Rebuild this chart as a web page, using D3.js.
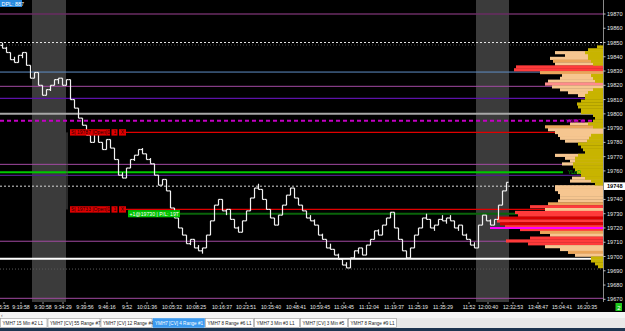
<!DOCTYPE html>
<html>
<head>
<meta charset="utf-8">
<script src="https://cdn.jsdelivr.net/npm/d3@7"></script>
<style>
html, body { margin: 0; padding: 0; background: #000; overflow: hidden; }
svg { display: block; font-family: "Liberation Sans", Arial, sans-serif; }
</style>
</head>
<body>
<svg id="chart" width="625" height="331"></svg>
<script>
// -------------------- DATA --------------------
// 4-range bar closes, read left to right
const closes = [
  19846, 19843, 19838, 19836, 19841, 19843, 19834, 19825, 19829, 19820,
  19813, 19817, 19820, 19824, 19825, 19820, 19824, 19810, 19804, 19797,
  19792, 19785, 19780, 19787, 19780, 19775, 19782, 19776, 19768, 19757,
  19755, 19762, 19768, 19771, 19775, 19772, 19768, 19765, 19757, 19750,
  19754, 19746, 19734, 19727, 19720, 19715, 19709, 19712, 19706, 19704,
  19706, 19715, 19725, 19736, 19740, 19732, 19733, 19726, 19720, 19717,
  19725, 19732, 19741, 19748, 19747, 19740, 19733, 19727, 19722, 19729,
  19736, 19743, 19748, 19741, 19736, 19732, 19727, 19725, 19722, 19715,
  19712, 19706, 19705, 19701, 19698, 19694, 19692, 19699, 19704, 19706,
  19701, 19708, 19712, 19718, 19715, 19722, 19727, 19731, 19720, 19712,
  19704, 19699, 19706, 19715, 19720, 19727, 19726, 19720, 19722, 19726,
  19725, 19727, 19725, 19720, 19722, 19715, 19712, 19708, 19706, 19722,
  19729, 19725, 19722, 19726, 19736, 19746, 19752
];

const priceTicks = [19870, 19860, 19850, 19840, 19830, 19820, 19810, 19800, 19790, 19780,
  19770, 19760, 19740, 19730, 19720, 19710, 19700, 19690, 19680, 19670];

const timeLabels = ["5:35", "9:19:58", "9:30:58", "9:34:29", "9:39:56", "9:46:16", "9:52",
  "10:01:36", "10:05:32", "10:08:25", "10:16:37", "10:23:51", "10:35:40", "10:48:41",
  "10:59:45", "11:04:45", "11:12:04", "11:19:37", "11:25:19", "11:35:29", "11:52",
  "12:00:40", "12:32:53", "13:48:47", "15:04:41", "16:20:35"];
// bar index under each time label
const timeIdx = [0.5, 4.75, 10.25, 15.25, 20.75, 26.25, 31.25, 36.25, 42.5, 48.5, 55, 61,
  67.25, 73.5, 79.5, 85.5, 91.75, 98, 104, 110.25, 116.75, 121.5, 127.75, 134, 140, 146.25];

// session shading (bar index ranges)
const sessionFrom = [7.5, 118.5];
const sessionTo = [16, 126.75];

// volume profile, 2-point rows (row low price)
const profileLow = d3.range(19846, 19690, -2);
const profileVol = [
  0, 0, 240, 190, 265, 250, 240, 435, 445, 315,
  205, 215, 275, 290, 255, 215, 175, 125, 0, 0,
  0, 0, 0, 0, 0, 0, 0, 165, 290, 275,
  240, 225, 215, 190, 0, 0, 0, 0, 240, 190,
  165, 205, 0, 0, 0, 0, 155, 165, 0, 240,
  240, 225, 215, 215, 225, 275, 365, 290, 440, 425,
  530, 530, 515, 490, 415, 315, 265, 365, 485, 375,
  290, 215, 175, 140, 0, 0, 0, 0
];
const profileKind = [
  "", "", "t", "t", "t", "o", "t", "r", "r", "o",
  "t", "t", "t", "p", "t", "t", "t", "t", "", "",
  "", "", "", "", "", "", "", "t", "o", "t",
  "t", "t", "t", "t", "", "", "", "", "t", "t",
  "t", "t", "", "", "", "", "t", "t", "", "t",
  "t", "t", "t", "t", "t", "o", "r", "t", "r", "r",
  "d", "r", "d", "r", "r", "o", "t", "r", "r", "r",
  "t", "t", "o", "t", "", "", "", ""
];
const profileBase = [
  30, 75, 90, 75, 75, 60, 50, 0, 0, 0,
  60, 50, 40, 0, 0, 50, 75, 90, 90, 110,
  130, 125, 110, 110, 50, 40, 50, 75, 50, 0,
  0, 60, 70, 80, 125, 110, 100, 90, 125, 140,
  140, 150, 150, 140, 130, 110, 90, 60, 40, 0,
  0, 0, 0, 0, 0, 0, 0, 0, 0, 0,
  0, 0, 0, 0, 0, 0, 0, 0, 0, 0,
  0, 0, 0, 0, 60, 60, 40, 25
];

// horizontal levels
const levelPrices = [19870, 19850, 19829.3, 19819.3, 19810.9, 19800, 19795.2,
  19764.6, 19759, 19756.9, 19749.3, 19710.7, 19698.5, 19691.2, 19670.7];
const levelStyles = [
  { c: "#6a2d63", w: 1.5 },
  { c: "#e6e6e6", w: 1, d: "2,2" },
  { c: "#5f8fc6", w: 1 },
  { c: "#a24aa2", w: 1 },
  { c: "#5c12a8", w: 1.2 },
  { c: "#a8a8a8", w: 2 },
  { c: "#c400c4", w: 2, d: "4,3" },
  { c: "#a24aa2", w: 1 },
  { c: "#00c800", w: 2, end: 563 },
  { c: "#4e1f86", w: 1.2 },
  { c: "#d8d8d8", w: 1, d: "2,2" },
  { c: "#a24aa2", w: 1 },
  { c: "#ffffff", w: 2 },
  { c: "#5a5a5a", w: 1, d: "1,2" },
  { c: "#a24aa2", w: 1 }
];

const orderPrices = [19787, 19733];
const orderTexts = ["S| 19787 |Open|0", "S| 19733 |Open|0"];
const entryPrice = 19730;
const entryText = "+1@19730 | P/L: 19T";
const pocPrice = 19720;
const bidPrice = 19749.3;
const bidText = "19748";

const tabs = ["YMH7 15 Min  #2  L1", "YMH7 [CV] 55 Range  #7", "YMH7 [CV] 12 Range  #4",
  "YMH7 [CV] 4 Range  #1", "YMH7 8 Range  #6  L1", "YMH7 3 Min  #3  L1",
  "YMH7 [CV] 3 Min  #5", "YMH7 8 Range  #9  L1"];
const activeTab = 3;

// -------------------- LAYOUT --------------------
const W = 625, H = 331;
const plotR = 603, plotB = 302;
const svg = d3.select("#chart");

const x = d3.scaleLinear().domain([0, closes.length - 1]).range([2, 506]);
const y = d3.scaleLinear().domain([19670, 19870]).range([299.3, 14]);
const vol = d3.scaleLinear().domain([0, 600]).range([0, 120]);

const kindColor = { t: "#f6c690", o: "#eaa55a", r: "#ff3b3b", d: "#d40000", p: "#ff8c8c" };

svg.append("rect").attr("width", W).attr("height", H).attr("fill", "#000");

const plot = svg.append("g");
plot.append("defs").append("clipPath").attr("id", "clip")
  .append("rect").attr("width", plotR).attr("height", plotB);
const inner = plot.append("g").attr("clip-path", "url(#clip)");

// session bands
inner.selectAll(".sess").data(sessionFrom).enter().append("rect")
  .attr("x", (d) => x(d))
  .attr("width", (d, i) => x(sessionTo[i]) - x(d))
  .attr("y", 0).attr("height", plotB)
  .attr("fill", "#3b3b3b");

// level lines
inner.selectAll(".lvl").data(levelPrices).enter().append("line")
  .attr("x1", 0).attr("x2", (d, i) => levelStyles[i].end || plotR)
  .attr("y1", d => y(d)).attr("y2", d => y(d))
  .attr("stroke", (d, i) => levelStyles[i].c)
  .attr("stroke-width", (d, i) => levelStyles[i].w)
  .attr("stroke-dasharray", (d, i) => levelStyles[i].d || null);

// faint ruler under the 19850 line
inner.append("line").attr("x1", 0).attr("x2", plotR)
  .attr("y1", y(19850) + 2.5).attr("y2", y(19850) + 2.5)
  .attr("stroke", "#444").attr("stroke-dasharray", "1,2");

// order lines
inner.selectAll(".ord").data(orderPrices).enter().append("line")
  .attr("x1", 126).attr("x2", plotR)
  .attr("y1", d => y(d)).attr("y2", d => y(d))
  .attr("stroke", "#e00000").attr("stroke-width", 1.2);
inner.append("line").attr("x1", 180).attr("x2", plotR)
  .attr("y1", y(entryPrice)).attr("y2", y(entryPrice))
  .attr("stroke", "#0a640a").attr("stroke-width", 2);
inner.append("line").attr("x1", 67).attr("x2", 67)
  .attr("y1", y(orderPrices[0])).attr("y2", y(orderPrices[1]))
  .attr("stroke", "#555");

// -------------------- VOLUME PROFILE --------------------
const rowH = y(19670) - y(19672);
inner.selectAll(".prof").data(profileLow).enter().append("rect")
  .attr("x", (d, i) => plotR - vol(profileVol[i]))
  .attr("width", (d, i) => vol(profileVol[i]))
  .attr("y", d => y(d + 2)).attr("height", rowH + 0.3)
  .attr("fill", (d, i) => kindColor[profileKind[i]] || "none");
inner.selectAll(".base").data(profileLow).enter().append("rect")
  .attr("x", (d, i) => plotR - vol(profileBase[i]))
  .attr("width", (d, i) => vol(profileBase[i]))
  .attr("y", d => y(d + 2)).attr("height", rowH + 0.3)
  .attr("fill", "#c8b400");

// POC line
inner.append("line").attr("x1", 490).attr("x2", plotR)
  .attr("y1", y(pocPrice)).attr("y2", y(pocPrice))
  .attr("stroke", "#ff00ff").attr("stroke-width", 2);

// labels on levels
inner.append("text").attr("x", 566).attr("y", y(19795.2) + 2)
  .attr("font-size", 5).attr("fill", "#b000b0").text("VWPOC");
inner.append("text").attr("x", 568).attr("y", y(19759) + 2)
  .attr("font-size", 5).attr("fill", "#00c000").text("YLoD");

// -------------------- PRICE BARS --------------------
const bars = inner.append("g").attr("stroke", "#f2f2f2").attr("stroke-width", 1.2);
closes.forEach((c, i) => {
  const o = i > 0 ? closes[i - 1] : c + 2;
  let hi = Math.max(o, c), lo = Math.min(o, c);
  if (hi - lo < 4) { if (c >= o) lo = c - 4; else hi = c + 4; }
  const cx = Math.round(x(i)) + 0.5;
  bars.append("line").attr("x1", cx).attr("x2", cx).attr("y1", y(hi)).attr("y2", y(lo));
  bars.append("line").attr("x1", cx - 2).attr("x2", cx).attr("y1", y(o)).attr("y2", y(o));
  bars.append("line").attr("x1", cx).attr("x2", cx + 2).attr("y1", y(c)).attr("y2", y(c));
});

// -------------------- ORDER LABELS --------------------
orderPrices.forEach((p, i) => {
  const g = inner.append("g").attr("transform", `translate(70,${y(p) - 3.2})`);
  g.append("rect").attr("width", 40).attr("height", 6.4).attr("fill", "#e00000");
  g.append("rect").attr("x", 41.5).attr("width", 6).attr("height", 6.4).attr("fill", "#e00000");
  g.append("rect").attr("x", 49).attr("width", 7).attr("height", 6.4).attr("fill", "#e00000");
  g.append("text").attr("x", 1).attr("y", 5).attr("font-size", 5).attr("fill", "#2a0000").text(orderTexts[i]);
  g.append("text").attr("x", 43.5).attr("y", 5).attr("font-size", 5).attr("fill", "#2a0000").text("1");
  g.append("text").attr("x", 50.8).attr("y", 5).attr("font-size", 5).attr("fill", "#2a0000").text("X");
});
const eg = inner.append("g").attr("transform", `translate(128,${y(entryPrice) - 3.6})`);
eg.append("rect").attr("width", 52).attr("height", 7.2).attr("fill", "#00c400");
eg.append("text").attr("x", 1.5).attr("y", 5.4).attr("font-size", 5.2).attr("fill", "#fff").text(entryText);

// DPL badge
svg.append("rect").attr("width", 22).attr("height", 7).attr("fill", "#2a8be0");
svg.append("text").attr("x", 1.5).attr("y", 5.6).attr("font-size", 5.4).attr("fill", "#fff").text("DPL: 887");

// -------------------- AXES --------------------
svg.append("line").attr("x1", plotR + 0.5).attr("x2", plotR + 0.5).attr("y1", 0).attr("y2", plotB)
  .attr("stroke", "#8a8a8a");
svg.selectAll(".pt").data(priceTicks).enter().append("line")
  .attr("x1", plotR).attr("x2", plotR + 2.5)
  .attr("y1", d => y(d)).attr("y2", d => y(d)).attr("stroke", "#bbb");
svg.selectAll(".pl").data(priceTicks).enter().append("text")
  .attr("x", 607).attr("y", d => y(d) + 2)
  .attr("font-size", 5.6).attr("fill", "#e8e8e8").text(d => d);

svg.append("rect").attr("x", 604).attr("y", y(bidPrice) - 3.8).attr("width", 21).attr("height", 7.6)
  .attr("fill", "#fff");
svg.append("text").attr("x", 607).attr("y", y(bidPrice) + 2)
  .attr("font-size", 5.6).attr("font-weight", "bold").attr("fill", "#000").text(bidText);

svg.selectAll(".tl").data(timeLabels).enter().append("text")
  .attr("x", (d, i) => x(timeIdx[i])).attr("y", 308.5)
  .attr("text-anchor", "middle").attr("font-size", 5.2).attr("fill", "#e8e8e8").text(d => d);
svg.selectAll(".tt").data(timeIdx).enter().append("line")
  .attr("x1", d => x(d)).attr("x2", d => x(d)).attr("y1", plotB).attr("y2", plotB + 2)
  .attr("stroke", "#999");

svg.append("rect").attr("x", 615.5).attr("y", 303).attr("width", 6.5).attr("height", 8).attr("fill", "#1ec81e");
svg.append("text").attr("x", 618.8).attr("y", 309.5).attr("text-anchor", "middle")
  .attr("font-size", 6).attr("fill", "#fff").text("2");

// -------------------- TAB STRIP --------------------
svg.append("rect").attr("y", 312).attr("width", W).attr("height", 6).attr("fill", "#f4f4f4");
svg.append("text").attr("x", 1).attr("y", 317).attr("font-size", 5).attr("fill", "#555").text("‹");
svg.append("rect").attr("y", 318).attr("width", W).attr("height", 10).attr("fill", "#e9e9e9");
svg.append("rect").attr("y", 328).attr("width", W).attr("height", 3).attr("fill", "#1d3550");

const tabW = [46.5, 52, 51, 51.5, 48, 45, 47, 48];
let tx = 0.5;
tabs.forEach((t, i) => {
  const on = i === activeTab;
  svg.append("rect").attr("x", tx).attr("y", 318.5).attr("width", tabW[i]).attr("height", 9)
    .attr("fill", on ? "#3b9af0" : "#fff").attr("stroke", on ? "#3b9af0" : "#9a9a9a").attr("stroke-width", 0.6);
  svg.append("text").attr("x", tx + 2).attr("y", 325).attr("font-size", 4.6)
    .attr("fill", on ? "#fff" : "#222").text(t);
  tx += tabW[i] + 1;
});
</script>
</body>
</html>
